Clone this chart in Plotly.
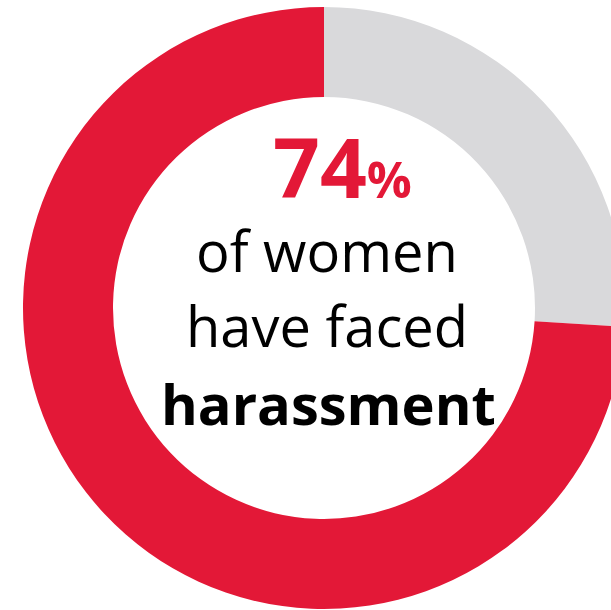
import plotly.graph_objects as go

# Share of women who have faced harassment vs. the rest
labels = ["Have not", "Have faced harassment"]
shares = [26, 74]
colors = ["#D9D9DB", "#E31837"]

W, H = 650, 610
FONT = "Open Sans"
RED = colors[1]


def px_x(x):
    return x / W


def px_y(y):
    return 1 - y / H


fig = go.Figure(
    go.Pie(
        labels=labels,
        values=shares,
        sort=False,
        direction="clockwise",
        rotation=0,
        hole=0.701,
        marker=dict(colors=colors, line=dict(width=0)),
        textinfo="none",
        hoverinfo="label+percent",
        showlegend=False,
        domain=dict(x=[px_x(23), px_x(625)], y=[px_y(609), px_y(7)]),
    )
)

headline = (
    f"<b>{shares[1]}<span style='font-size:50px'>%</span></b>"
)
lines = [
    (headline, 342, 166, 82, RED),
    ("of women", 327, 250, 56, "#000000"),
    ("have faced", 327, 325, 56, "#000000"),
    ("<b>harassment</b>", 328, 403, 56, "#000000"),
]
for text, x, y, size, color in lines:
    fig.add_annotation(
        text=text,
        x=px_x(x),
        y=px_y(y),
        xref="paper",
        yref="paper",
        xanchor="center",
        yanchor="middle",
        showarrow=False,
        font=dict(family=FONT, size=size, color=color),
    )

fig.update_layout(
    width=W,
    height=H,
    autosize=False,
    margin=dict(l=0, r=0, t=0, b=0),
    paper_bgcolor="#FFFFFF",
    plot_bgcolor="#FFFFFF",
)

fig.write_html(
    "out.html",
    config={"displayModeBar": False},
    post_script=(
        "document.documentElement.style.overflow='hidden';"
        "document.body.style.overflow='hidden';"
        "document.body.style.margin='0';"
    ),
)
